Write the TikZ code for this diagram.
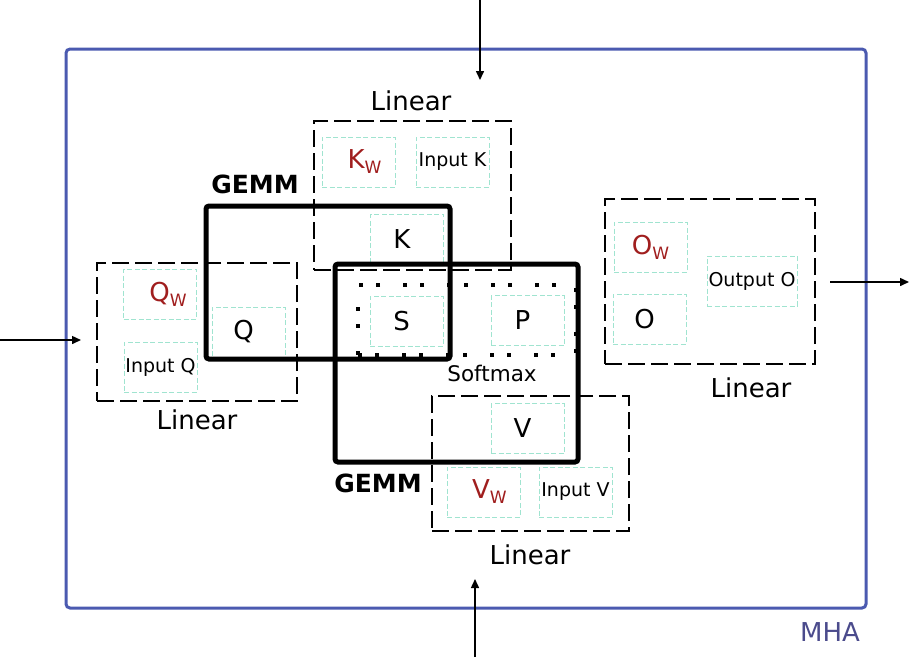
\documentclass[tikz,border=0pt]{standalone}
\usepackage{fontspec}
\setmainfont{DejaVu Sans}
\usepackage{xcolor}
\usetikzlibrary{positioning,arrows.meta}

\definecolor{mhablue}{RGB}{75,90,176}
\definecolor{mhatext}{RGB}{75,75,140}
\definecolor{tealbox}{RGB}{160,228,208}
\definecolor{wred}{RGB}{160,30,30}
\newcommand{\wsub}[2]{{\hspace*{#2}\color{wred}#1\raisebox{-5pt}{\fontsize{17}{17}\selectfont W}}}
\newcommand{\lft}[1]{\hspace*{-10pt}#1}

\begin{document}
\begin{tikzpicture}[
  x=1pt, y=-1pt,
  >={Triangle[length=9pt,width=8pt]},
  mha/.style={draw=mhablue, line width=3pt, rounded corners=4pt, minimum width=800pt, minimum height=559pt, inner sep=0pt},
  linear/.style={draw, line width=2pt, dash pattern=on 17pt off 6pt, inner sep=0pt},
  tbox/.style={draw=tealbox, line width=0.8pt, dash pattern=on 5pt off 2.5pt, minimum width=73pt, minimum height=50pt, inner sep=0pt, font=\fontsize{26}{26}\selectfont},
  small/.style={font=\fontsize{19}{19}\selectfont},
  gemm/.style={draw, line width=5pt, rounded corners=3pt, inner sep=0pt},
  soft/.style={draw, line width=4pt, dash pattern=on 4pt off 13pt on 4pt off 23pt, inner sep=0pt},
  lbl/.style={font=\fontsize{26}{26}\selectfont},
  glbl/.style={font=\fontsize{25}{25}\selectfont\bfseries},
  flow/.style={->, line width=1.5pt},
]
\useasboundingbox (0,0) rectangle (910,657);
\node[mha] (mha) at (466,328.5) {};
\node[lbl, text=mhatext] (mhalbl) at (830,632) {MHA};
% linear blocks
\node[linear, minimum width=197pt, minimum height=149pt] (lk) at (412.5,195.5) {};
\node[linear, minimum width=200pt, minimum height=138pt] (lq) at (197,332) {};
\node[linear, minimum width=197pt, minimum height=135pt] (lv) at (530.5,463.5) {};
\node[linear, minimum width=210pt, minimum height=165pt] (lo) at (710,281.5) {};
\node[lbl] (lklbl) at (411,101) {Linear};
\node[lbl] (lqlbl) at (197,420) {Linear};
\node[lbl] (lvlbl) at (530,555) {Linear};
\node[lbl] (lolbl) at (751,388) {Linear};
% tensors
\node[tbox] (kw) at (358.5,162) {\wsub{K}{12pt}};
\node[tbox, small] (ink) at (452.5,162) {Input K};
\node[tbox] (k) at (407,239) {\lft{K}};
\node[tbox] (qw) at (160,294) {\wsub{Q}{16pt}};
\node[tbox, small] (inq) at (160.5,367) {Input Q};
\node[tbox] (q) at (248.5,332) {\lft{Q}};
\node[tbox] (s) at (406.5,321) {\lft{S}};
\node[tbox] (p) at (527.5,320.5) {\lft{P}};
\node[tbox] (v) at (527.5,428.5) {\lft{V}};
\node[tbox] (vw) at (483.5,492) {\wsub{V}{12pt}};
\node[tbox, small] (inv) at (575.5,492) {Input V};
\node[tbox] (ow) at (650.5,247) {\wsub{O}{0pt}};
\node[tbox] (o) at (649.5,319) {\lft{O}};
\node[tbox, small, minimum width=90pt] (outo) at (752,281) {Output O};
% softmax and gemm
\node[soft, minimum width=218pt, minimum height=70pt] (sm) at (467,320) {};
\node[font=\fontsize{21.5}{21.5}\selectfont] (smlbl) at (492,373) {Softmax};
\node[gemm, minimum width=244pt, minimum height=153pt] (g1) at (328,282.5) {};
\node[gemm, minimum width=243pt, minimum height=198pt] (g2) at (456.5,363) {};
\node[glbl] (g1lbl) at (255,184) {GEMM};
\node[glbl] (g2lbl) at (378,483) {GEMM};
% in / out
\coordinate (topin) at (480,0);
\coordinate (topend) at (480,80);
\coordinate (leftin) at (0,340);
\coordinate (leftend) at (81,340);
\coordinate (rightout) at (830,282);
\coordinate (rightend) at (909,282);
\coordinate (botin) at (475,657);
\coordinate (botend) at (475,579);
\draw[flow] (topin) -- (topend);
\draw[flow] (leftin) -- (leftend);
\draw[flow] (rightout) -- (rightend);
\draw[flow] (botin) -- (botend);
\end{tikzpicture}
\end{document}
